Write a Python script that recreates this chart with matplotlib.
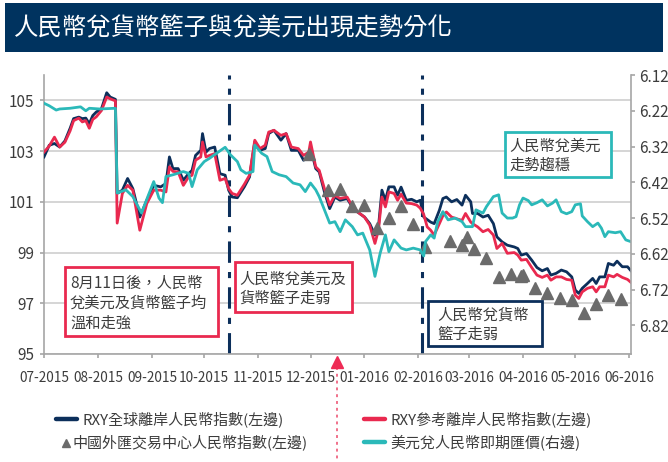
import numpy as np
import pandas as pd
import matplotlib
matplotlib.use('Agg')
import matplotlib.pyplot as plt
import matplotlib.dates as mdates
import matplotlib.transforms as mtransforms
from matplotlib.lines import Line2D
from matplotlib.patches import Rectangle

plt.rcParams['font.family'] = ['Noto Sans CJK TC', 'DejaVu Sans']

# ---- data ----
rxy_dates = ['2015-07-01', '2015-07-04', '2015-07-07', '2015-07-10', '2015-07-13', '2015-07-16', '2015-07-18',
             '2015-07-21', '2015-07-23', '2015-07-25', '2015-07-27', '2015-07-29', '2015-07-31', '2015-08-03',
             '2015-08-06', '2015-08-08', '2015-08-11', '2015-08-12', '2015-08-15', '2015-08-18', '2015-08-21',
             '2015-08-25', '2015-08-29', '2015-09-02', '2015-09-06', '2015-09-09', '2015-09-11', '2015-09-13',
             '2015-09-16', '2015-09-19', '2015-09-22', '2015-09-24', '2015-09-26', '2015-09-29', '2015-09-30',
             '2015-10-02', '2015-10-04', '2015-10-07', '2015-10-10', '2015-10-13', '2015-10-15', '2015-10-17',
             '2015-10-20', '2015-10-24', '2015-10-27', '2015-10-30', '2015-11-02', '2015-11-05', '2015-11-07',
             '2015-11-10', '2015-11-14', '2015-11-17', '2015-11-20', '2015-11-24', '2015-11-27', '2015-11-30',
             '2015-12-01', '2015-12-04', '2015-12-06', '2015-12-09', '2015-12-12', '2015-12-15', '2015-12-18',
             '2015-12-22', '2015-12-25', '2015-12-28', '2016-01-01', '2016-01-04', '2016-01-07', '2016-01-09',
             '2016-01-11', '2016-01-13', '2016-01-15', '2016-01-18', '2016-01-20', '2016-01-22', '2016-01-25',
             '2016-01-28', '2016-01-31', '2016-02-02', '2016-02-04', '2016-02-06', '2016-02-08', '2016-02-10',
             '2016-02-13', '2016-02-15', '2016-02-17', '2016-02-20', '2016-02-23', '2016-02-26', '2016-02-28',
             '2016-03-02', '2016-03-03', '2016-03-06', '2016-03-09', '2016-03-12', '2016-03-15', '2016-03-17',
             '2016-03-20', '2016-03-23', '2016-03-27', '2016-03-29', '2016-03-31', '2016-04-03', '2016-04-06',
             '2016-04-09', '2016-04-12', '2016-04-15', '2016-04-17', '2016-04-20', '2016-04-23', '2016-04-26',
             '2016-04-29', '2016-05-01', '2016-05-03', '2016-05-05', '2016-05-08', '2016-05-11', '2016-05-13',
             '2016-05-15', '2016-05-18', '2016-05-20', '2016-05-23', '2016-05-25', '2016-05-28', '2016-05-31',
             '2016-06-02']

rxy_global = [102.77, 103.23, 103.3, 103.16, 103.4, 103.9, 104.28, 104.34, 104.28, 104.3, 104.08, 104.4,
              104.54, 104.67, 105.3, 105.13, 105.04, 101.33, 101.46, 101.92, 101.52, 100.4, 101.06, 101.65,
              101.59, 101.72, 102.77, 102.31, 102.31, 101.85, 102.11, 102.24, 102.83, 103.03, 103.69, 102.96,
              103.1, 103.16, 102.11, 102.05, 101.46, 101.19, 101.16, 101.59, 101.98, 103.36, 103.03, 103.1,
              103.69, 103.82, 103.43, 103.69, 103.03, 103.03, 102.64, 102.77, 103.16, 102.31, 102.18, 101.39,
              100.73, 101.19, 101.06, 101.13, 100.8, 100.6, 100.4, 100.14, 99.69, 100.0, 101.46, 101.06,
              101.59, 101.59, 101.26, 101.58, 101.06, 101.1, 101.0, 101.06, 100.4, 100.3, 100.2, 100.14,
              100.67, 101.13, 101.19, 101.0, 101.09, 100.87, 101.26, 101.0, 100.54, 100.54, 100.4, 100.47,
              100.14, 99.62, 99.42, 99.29, 99.22, 99.16, 98.9, 98.96, 98.7, 98.41, 98.28, 98.37, 98.11,
              98.18, 98.31, 98.24, 98.04, 97.52, 97.39, 97.59, 97.78, 97.98, 97.78, 98.04, 98.04, 98.57,
              98.5, 98.66, 98.44, 98.44, 98.28]

rxy_reference = [102.96, 103.2, 103.55, 103.16, 103.35, 103.8, 104.2, 104.3, 104.15, 104.2, 103.9, 104.25,
                 104.35, 104.6, 105.13, 105.06, 104.98, 100.16, 101.33, 101.65, 101.46, 99.88, 100.93, 101.46,
                 101.46, 101.39, 102.38, 102.2, 102.18, 101.65, 101.98, 102.05, 102.64, 102.77, 103.36, 102.77,
                 102.83, 102.9, 101.85, 101.92, 101.52, 101.33, 101.26, 101.69, 102.05, 103.43, 103.1, 103.23,
                 103.75, 103.82, 103.62, 103.69, 103.16, 103.1, 102.83, 102.96, 103.36, 102.38, 102.24, 101.52,
                 100.87, 101.26, 101.13, 101.19, 100.83, 100.6, 100.4, 100.08, 99.36, 99.88, 101.19, 100.8,
                 101.39, 101.33, 101.06, 101.3, 100.95, 100.93, 100.87, 100.75, 100.5, 100.01, 99.88, 99.69,
                 100.14, 100.45, 100.6, 100.4, 100.33, 100.27, 100.54, 100.2, 100.14, 100.01, 99.82, 99.91,
                 99.69, 99.16, 99.36, 98.97, 99.0, 98.9, 98.7, 98.73, 98.41, 98.11, 98.02, 98.11, 97.91,
                 98.04, 98.04, 97.94, 97.91, 97.32, 97.19, 97.45, 97.59, 97.65, 97.45, 97.65, 97.65, 98.11,
                 98.04, 98.14, 98.02, 97.94, 97.82]

cfets_dates = ['2015-11-30', '2015-12-11', '2015-12-18', '2015-12-25', '2016-01-01', '2016-01-08', '2016-01-15',
               '2016-01-22', '2016-01-29', '2016-02-05', '2016-02-19', '2016-02-26', '2016-02-29', '2016-03-04',
               '2016-03-11', '2016-03-18', '2016-03-25', '2016-03-31', '2016-04-01', '2016-04-08', '2016-04-15',
               '2016-04-22', '2016-04-29', '2016-05-06', '2016-05-13', '2016-05-20', '2016-05-27']
cfets_index = [102.9, 101.45, 101.52, 100.85, 100.88, 99.96, 100.37, 100.83, 100.14, 99.22, 99.45, 99.29,
               99.63, 99.15, 98.8, 98.03, 98.15, 98.07, 98.11, 97.61, 97.39, 97.19, 97.13, 96.6, 96.96,
               97.32, 97.17]

usd_dates = ['2015-07-01', '2015-07-04', '2015-07-08', '2015-07-10', '2015-07-16', '2015-07-22', '2015-07-25',
             '2015-07-27', '2015-08-02', '2015-08-11', '2015-08-12', '2015-08-17', '2015-08-21', '2015-08-26',
             '2015-08-30', '2015-09-02', '2015-09-05', '2015-09-07', '2015-09-09', '2015-09-13', '2015-09-19',
             '2015-09-22', '2015-09-24', '2015-09-27', '2015-10-01', '2015-10-04', '2015-10-08', '2015-10-13',
             '2015-10-16', '2015-10-20', '2015-10-22', '2015-10-25', '2015-10-29', '2015-10-30', '2015-11-03',
             '2015-11-06', '2015-11-09', '2015-11-13', '2015-11-17', '2015-11-21', '2015-11-25', '2015-11-28',
             '2015-12-01', '2015-12-04', '2015-12-06', '2015-12-09', '2015-12-12', '2015-12-15', '2015-12-18',
             '2015-12-21', '2015-12-25', '2015-12-28', '2015-12-31', '2016-01-04', '2016-01-07', '2016-01-10',
             '2016-01-13', '2016-01-15', '2016-01-18', '2016-01-22', '2016-01-25', '2016-01-29', '2016-02-02',
             '2016-02-04', '2016-02-05', '2016-02-08', '2016-02-10', '2016-02-12', '2016-02-15', '2016-02-18',
             '2016-02-22', '2016-02-26', '2016-02-28', '2016-03-03', '2016-03-05', '2016-03-09', '2016-03-11',
             '2016-03-15', '2016-03-18', '2016-03-20', '2016-03-23', '2016-03-26', '2016-03-28', '2016-03-30',
             '2016-04-01', '2016-04-04', '2016-04-06', '2016-04-09', '2016-04-12', '2016-04-15', '2016-04-18',
             '2016-04-20', '2016-04-23', '2016-04-26', '2016-04-29', '2016-05-01', '2016-05-04', '2016-05-05',
             '2016-05-08', '2016-05-11', '2016-05-14', '2016-05-16', '2016-05-18', '2016-05-20', '2016-05-24',
             '2016-05-27', '2016-05-30', '2016-06-02']
usd_cny = [6.199, 6.206, 6.218, 6.215, 6.213, 6.209, 6.220, 6.213, 6.215, 6.213, 6.450, 6.441, 6.460, 6.506,
           6.455, 6.418, 6.464, 6.477, 6.404, 6.399, 6.390, 6.395, 6.432, 6.385, 6.362, 6.353, 6.339, 6.322,
           6.343, 6.362, 6.385, 6.395, 6.390, 6.316, 6.339, 6.348, 6.390, 6.399, 6.404, 6.422, 6.427, 6.446,
           6.422, 6.441, 6.460, 6.497, 6.534, 6.530, 6.558, 6.525, 6.544, 6.567, 6.562, 6.609, 6.683, 6.618,
           6.567, 6.614, 6.581, 6.604, 6.609, 6.604, 6.609, 6.626, 6.586, 6.567, 6.576, 6.530, 6.502, 6.525,
           6.520, 6.530, 6.544, 6.544, 6.497, 6.506, 6.488, 6.460, 6.455, 6.506, 6.520, 6.520, 6.516, 6.483,
           6.464, 6.471, 6.483, 6.477, 6.469, 6.486, 6.478, 6.469, 6.502, 6.508, 6.502, 6.483, 6.480, 6.514,
           6.530, 6.544, 6.534, 6.548, 6.572, 6.558, 6.561, 6.558, 6.581, 6.586]

phase_dates = ['2015-10-15', '2016-02-03']
marker_date = '2015-12-16'

left_ticks = [95, 97, 99, 101, 103, 105]
right_ticks = [6.12, 6.22, 6.32, 6.42, 6.52, 6.62, 6.72, 6.82]

NAVY = '#0c2f5b'
RED = '#e9294f'
TEAL = '#2bb9b9'
GRAY = '#6b6b6b'
TXT = '#3c3c3c'

W, H = 668, 462


def fx(x):
    return x / W


def fy(y):
    return 1 - y / H


fig = plt.figure(figsize=(W / 100, H / 100), dpi=100)

# title bar
fig.add_artist(Rectangle((fx(5), fy(52)), fx(658), 49 / H, transform=fig.transFigure,
                         facecolor='#00335f', edgecolor='none'))
fig.text(fx(14), fy(28), '人民幣兌貨幣籃子與兌美元出現走勢分化', color='white', fontsize=17.6,
         va='center', ha='left')

ax = fig.add_axes([fx(44), fy(354), (631 - 44) / W, (354 - 75) / H])
ax2 = ax.twinx()

d_rxy = pd.to_datetime(rxy_dates)
d_cfets = pd.to_datetime(cfets_dates)
d_usd = pd.to_datetime(usd_dates)

ax.plot(d_rxy, rxy_global, color=NAVY, lw=2.0, zorder=3)
ax.plot(d_rxy, rxy_reference, color=RED, lw=2.0, zorder=4)
ax.plot(d_cfets, cfets_index, linestyle='none', marker='^', markersize=8, color=GRAY, zorder=5)
ax2.plot(d_usd, usd_cny, color=TEAL, lw=2.0)

for d in phase_dates:
    ax.axvline(pd.Timestamp(d), color=NAVY, lw=2.2, linestyle=(0, (7, 3, 2, 3)), zorder=2)

ax.set_xlim(pd.Timestamp('2015-07-01'), pd.Timestamp('2016-06-02'))
ax.set_ylim(95, 106)
ax.set_yticks(left_ticks)
ax2.set_ylim(6.90, 6.12)
ax2.set_yticks(right_ticks)
ax2.set_yticklabels(['%.2f' % v for v in right_ticks])

ax.xaxis.set_major_locator(mdates.MonthLocator())
ax.xaxis.set_major_formatter(mdates.DateFormatter('%m-%Y'))

ax.yaxis.grid(True, color='#d2d2d2', lw=1.3)
ax.set_axisbelow(True)

for a in (ax, ax2):
    for s in a.spines.values():
        s.set_color('#a6a6a6')
        s.set_linewidth(1.2)
    a.spines['top'].set_visible(False)
ax.spines['right'].set_visible(False)
ax2.spines['left'].set_visible(False)
ax2.spines['bottom'].set_visible(False)

ax.tick_params(axis='y', length=3, width=1.2, color='#a6a6a6', labelsize=11, labelcolor=TXT, pad=4)
ax.tick_params(axis='x', length=3, width=1.2, color='#a6a6a6', labelsize=9.8, labelcolor=TXT, pad=9)
ax2.tick_params(axis='y', length=3, width=1.2, color='#a6a6a6', labelsize=11, labelcolor=TXT, pad=3)

# pink marker below the axis
trans = mtransforms.blended_transform_factory(ax.transData, ax.transAxes)
md = pd.Timestamp(marker_date)
ax.plot([md, md], [-0.045, -0.40], transform=trans, color='#f0708a', lw=1.4, linestyle=(0, (1.5, 2)),
        clip_on=False)
ax.plot([md], [-0.027], transform=trans, marker='^', markersize=9, color='#ee2b55', clip_on=False,
        linestyle='none')


def note_box(x0, y0, x1, y1, lines, edge, tx, ty, step):
    fig.add_artist(Rectangle((fx(x0), fy(y1)), (x1 - x0) / W, (y1 - y0) / H, transform=fig.transFigure,
                             facecolor='white', edgecolor=edge, lw=2.0, zorder=10))
    for i, s in enumerate(lines):
        fig.text(fx(tx), fy(ty + i * step), s, color=TXT, fontsize=11, va='center', ha='left', zorder=11)


note_box(65, 267, 218, 336, ['8月11日後，人民幣', '兌美元及貨幣籃子均', '溫和走強'], RED, 70, 283, 20)
note_box(235, 262, 352, 312, ['人民幣兌美元及', '貨幣籃子走弱'], RED, 239, 279, 19)
note_box(428, 301, 542, 346, ['人民幣兌貨幣', '籃子走弱'], NAVY, 437, 315, 19)
note_box(505, 132, 611, 177, ['人民幣兌美元', '走勢趨穩'], TEAL, 509, 146, 19)

# legend drawn by hand
def leg_line(x0, y, color):
    fig.add_artist(Line2D([fx(x0), fx(x0 + 21)], [fy(y), fy(y)], transform=fig.transFigure,
                          color=color, lw=3.2, solid_capstyle='round'))


leg_line(56, 419, NAVY)
fig.text(fx(83), fy(419), 'RXY全球離岸人民幣指數(左邊)', fontsize=10.8, color=TXT, va='center')
fig.add_artist(Line2D([fx(66)], [fy(443)], transform=fig.transFigure, marker='^', markersize=5.5,
                      color=GRAY, linestyle='none'))
fig.text(fx(72), fy(442), '中國外匯交易中心人民幣指數(左邊)', fontsize=10.8, color=TXT, va='center')
leg_line(364, 419, RED)
fig.text(fx(390), fy(419), 'RXY參考離岸人民幣指數(左邊)', fontsize=10.8, color=TXT, va='center')
leg_line(364, 442, TEAL)
fig.text(fx(390), fy(442), '美元兌人民幣即期匯價(右邊)', fontsize=10.8, color=TXT, va='center')

fig.savefig('out.png', dpi=100)
